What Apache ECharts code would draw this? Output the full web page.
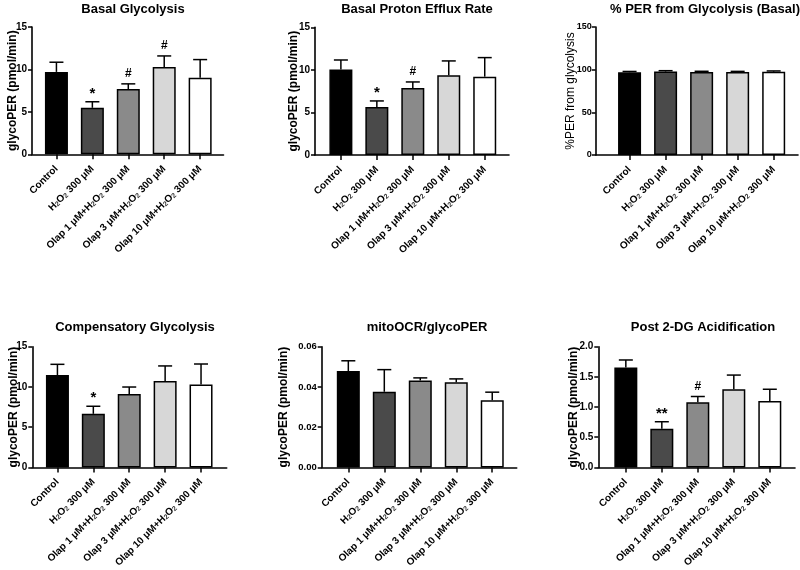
<!DOCTYPE html>
<html lang="en">
<head>
    <meta charset="UTF-8">
    <title>Glycolytic rate panels</title>
    <style>
        html, body { margin: 0; padding: 0; background: #fff; }
    </style>
</head>
<body>
<div id="echart" style="width: 800px; height: 570px;"></div>

<script src="https://cdn.jsdelivr.net/npm/echarts@6/dist/echarts.min.js"></script>
<script>
    var categories = ['Control', 'H₂O₂ 300 μM', 'Olap 1 μM+H₂O₂ 300 μM', 'Olap 3 μM+H₂O₂ 300 μM', 'Olap 10 μM+H₂O₂ 300 μM'];

    var titles = ['Basal Glycolysis', 'Basal Proton Efflux Rate', '% PER from Glycolysis (Basal)',
        'Compensatory Glycolysis', 'mitoOCR/glycoPER', 'Post 2-DG Acidification'];
    var yNames = ['glycoPER (pmol/min)', 'glycoPER (pmol/min)', '%PER from glycolysis',
        'glycoPER (pmol/min)', 'glycoPER (pmol/min)', 'glycoPER (pmol/min)'];

    // mean values (bar heights)
    var basalGlyco = [9.71, 5.48, 7.68, 10.30, 9.01];
    var basalPER = [10.03, 5.64, 7.87, 9.36, 9.20];
    var perFromGlyco = [97.0, 97.8, 97.3, 97.3, 97.7];
    var compGlyco = [11.48, 6.66, 9.13, 10.73, 10.30];
    var mitoRatio = [0.0479, 0.0376, 0.0432, 0.0423, 0.0334];
    var post2DG = [1.655, 0.642, 1.081, 1.295, 1.102];

    // SEM (upper error bar)
    var basalGlycoErr = [1.14, 0.71, 0.62, 1.29, 2.15];
    var basalPERErr = [1.13, 0.71, 0.71, 1.69, 2.24];
    var perFromGlycoErr = [0.9, 1.0, 0.8, 0.7, 0.8];
    var compGlycoErr = [1.33, 0.94, 0.86, 1.88, 2.55];
    var mitoRatioErr = [0.0051, 0.0110, 0.0013, 0.0017, 0.0040];
    var post2DGErr = [0.125, 0.115, 0.094, 0.235, 0.193];

    // significance marks
    var basalGlycoSig = ['', '*', '#', '#', ''];
    var basalPERSig = ['', '*', '#', '', ''];
    var perFromGlycoSig = ['', '', '', '', ''];
    var compGlycoSig = ['', '*', '', '', ''];
    var mitoRatioSig = ['', '', '', '', ''];
    var post2DGSig = ['', '**', '#', '', ''];

    // y axis ranges
    var yMax = [15, 15, 150, 15, 0.06, 2.0];
    var yStep = [5, 5, 50, 5, 0.02, 0.5];
    var yDigits = [0, 0, 0, 0, 2, 1];

    var barColors = ['#000000', '#4a4a4a', '#8a8a8a', '#d7d7d7', '#ffffff'];

    var means = [basalGlyco, basalPER, perFromGlyco, compGlyco, mitoRatio, post2DG];
    var errs = [basalGlycoErr, basalPERErr, perFromGlycoErr, compGlycoErr, mitoRatioErr, post2DGErr];
    var sigs = [basalGlycoSig, basalPERSig, perFromGlycoSig, compGlycoSig, mitoRatioSig, post2DGSig];

    // panel layout (px)
    var panels = [
        {left: 32, right: 576.5, top: 27, bottom: 415.7, xMin: -0.68, xMax: 4.65, nameGap: 13, titleX: 128, titleY: -2, tickFont: 10, tickGap: 5},
        {left: 315, right: 291, top: 27.3, bottom: 415, xMin: -0.72, xMax: 4.675, nameGap: 15, titleX: 412, titleY: -2, tickFont: 10, tickGap: 5},
        {left: 595.7, right: 2, top: 27, bottom: 415, xMin: -0.94, xMax: 4.675, nameGap: 19, titleX: 700, titleY: -2, tickFont: 9, tickGap: 4},
        {left: 32.3, right: 573.3, top: 346.7, bottom: 95.7, xMin: -0.70, xMax: 4.715, nameGap: 13, titleX: 130, titleY: 316, tickFont: 10, tickGap: 5},
        {left: 321.7, right: 283.3, top: 346.7, bottom: 95.7, xMin: -0.74, xMax: 4.68, nameGap: 32, titleX: 422, titleY: 316, tickFont: 9.5, tickGap: 5},
        {left: 598.3, right: 5, top: 346.7, bottom: 95.7, xMin: -0.765, xMax: 4.70, nameGap: 19, titleX: 698, titleY: 316, tickFont: 10, tickGap: 5}
    ];

    var font = 'Liberation Sans, Arial, sans-serif';
    var dom = document.getElementById('echart');
    var myChart = echarts.init(dom);

    // H₂O₂ -> rich subscript
    function subLabel(v) {
        var name = categories[Math.round(v)] || '';
        return name.replace(/₂/g, '{s|2}');
    }

    var option = {
        animation: false,
        title: [],
        grid: [],
        xAxis: [],
        yAxis: [],
        series: []
    };

    panels.forEach(function (p, k) {
        option.title.push({
            text: titles[k],
            left: p.titleX,
            top: p.titleY,
            textAlign: 'center',
            textStyle: {fontFamily: font, fontWeight: 'bold', fontSize: 13, color: '#000'}
        });
        option.grid.push({left: p.left, right: p.right, top: p.top, bottom: p.bottom, containLabel: false});
        option.xAxis.push({
            type: 'value',
            gridIndex: k,
            min: p.xMin,
            max: p.xMax,
            splitLine: {show: false},
            axisLine: {show: true, onZero: false, lineStyle: {color: '#000', width: 1.6}},
            axisTick: {show: true, length: 5, customValues: [0, 1, 2, 3, 4], lineStyle: {color: '#000', width: 1.5}},
            axisLabel: {
                customValues: [0, 1, 2, 3, 4],
                rotate: 45,
                margin: 13,
                fontFamily: font,
                fontWeight: 'bold',
                fontSize: 10,
                color: '#000',
                formatter: subLabel,
                rich: {
                    s: {fontFamily: font, fontWeight: 'bold', fontSize: 7, color: '#333', verticalAlign: 'bottom', padding: [3, 0, 0, 0]}
                }
            }
        });
        option.yAxis.push({
            type: 'value',
            gridIndex: k,
            min: 0,
            max: yMax[k],
            interval: yStep[k],
            name: yNames[k],
            nameLocation: 'middle',
            nameGap: p.nameGap,
            nameMoveOverlap: false,
            nameTextStyle: {fontFamily: font, fontWeight: k === 2 ? 'normal' : 'bold', fontSize: 12, color: '#000'},
            splitLine: {show: false},
            axisLine: {show: true, onZero: false, lineStyle: {color: '#000', width: 1.6}},
            axisTick: {show: true, length: 4, lineStyle: {color: '#000', width: 1.5}},
            axisLabel: {
                margin: p.tickGap,
                fontFamily: font,
                fontWeight: 'bold',
                fontSize: p.tickFont,
                color: '#000',
                formatter: function (v) { return v.toFixed(yDigits[k]); }
            }
        });

        var barData = means[k].map(function (v, i) {
            return {value: [i, v], itemStyle: {color: barColors[i]}};
        });
        option.series.push({
            type: 'bar',
            xAxisIndex: k,
            yAxisIndex: k,
            barWidth: 23,
            itemStyle: {borderColor: '#000', borderWidth: 1.5},
            data: barData,
            z: 2
        });

        var errData = means[k].map(function (v, i) {
            return [i, v, v + errs[k][i], i];
        });
        option.series.push({
            type: 'custom',
            xAxisIndex: k,
            yAxisIndex: k,
            z: 3,
            data: errData,
            renderItem: function (params, api) {
                var base = api.coord([api.value(0), api.value(1)]);
                var top = api.coord([api.value(0), api.value(2)]);
                var sig = sigs[k][api.value(3)];
                var half = 7;
                var children = [
                    {type: 'line', shape: {x1: base[0], y1: base[1], x2: top[0], y2: top[1]},
                        style: {stroke: '#000', lineWidth: 1.5}},
                    {type: 'line', shape: {x1: top[0] - half, y1: top[1], x2: top[0] + half, y2: top[1]},
                        style: {stroke: '#000', lineWidth: 1.5}}
                ];
                if (sig) {
                    children.push({
                        type: 'text',
                        style: {
                            text: sig,
                            x: top[0],
                            y: top[1] - (sig.indexOf('*') >= 0 ? 8 : 10),
                            align: 'center',
                            verticalAlign: 'middle',
                            font: (sig.indexOf('*') >= 0 ? 'bold 15px ' : 'bold 12px ') + font,
                            fill: '#000'
                        }
                    });
                }
                return {type: 'group', children: children};
            }
        });
    });

    myChart.setOption(option);
</script>
</body>
</html>
